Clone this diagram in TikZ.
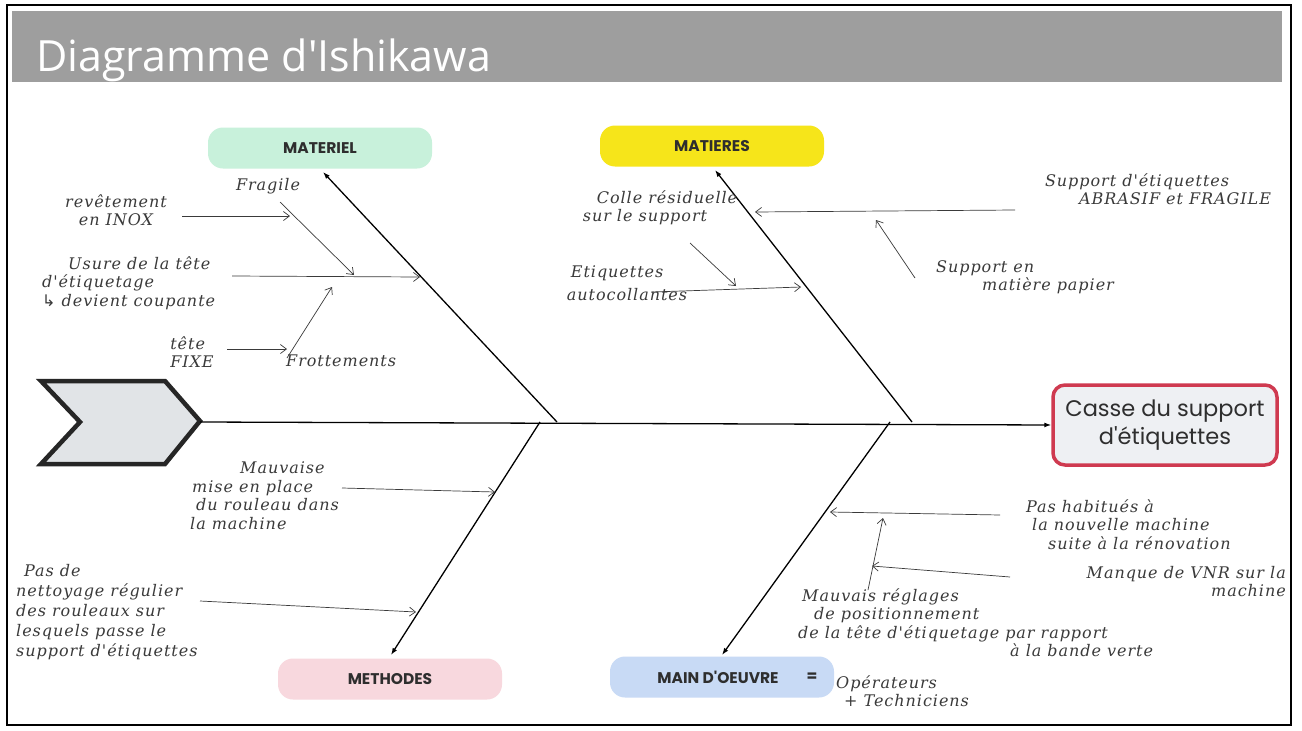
\documentclass[tikz,border=0pt]{standalone}
\usepackage{fontspec}
\usetikzlibrary{arrows.meta}
\newfontfamily\titlefont{Open Sans}
\newfontfamily\catfont{Poppins}
\newfontfamily\symfont{DejaVu Sans}
\newfontfamily\handfont{DejaVu Serif}[LetterSpace=6]
\definecolor{bandgray}{HTML}{9E9E9E}
\definecolor{hcol}{HTML}{3A3A3A}
\definecolor{catcol}{HTML}{2E2E2E}
\definecolor{mint}{HTML}{C8F1DB}
\definecolor{yel}{HTML}{F6E51A}
\definecolor{pinkc}{HTML}{F8D8DE}
\definecolor{bluec}{HTML}{C8DAF5}
\definecolor{headred}{HTML}{CF3A50}
\definecolor{headfill}{HTML}{EEF0F3}
\definecolor{chevfill}{HTML}{E1E4E7}
\tikzset{
  hand/.style={font=\handfont\itshape\fontsize{16}{18.5}\selectfont, text=hcol, inner sep=0pt},
  harrow/.style={draw=hcol, line width=0.7pt, -{Straight Barb[length=6pt,width=9pt]}},
  bone/.style={draw=black, line width=1.3pt, -{Latex[length=7pt,width=5pt]}},
  catbox/.style={rounded corners=15pt, minimum width=224pt, minimum height=41pt, inner sep=0pt,
    font=\catfont\bfseries\fontsize{15.5}{18}\selectfont, text=catcol},
}
\begin{document}
\begin{tikzpicture}[x=1pt,y=-1pt]
\useasboundingbox (0,0) rectangle (1302,731);
\fill[white] (0,0) rectangle (1302,731);
% frame and title band
\draw[line width=1.6pt, black] (7,5) rectangle (1291,725);
\fill[bandgray] (12,11) rectangle (1282,82);
\node[anchor=base west, inner sep=0pt, text=white, font=\titlefont\fontsize{43}{50}\selectfont] (title) at (36,71) {Diagramme d'Ishikawa};

% chevron (tail)
\draw[line width=4.5pt, draw=black!85, fill=chevfill, line join=miter]
  (41,381) -- (165,381) -- (200,421) -- (165,464) -- (41,464) -- (80,422) -- cycle;
\coordinate (tail) at (200,422);

% head
\node[draw=headred, line width=3.5pt, fill=headfill, rounded corners=12pt,
  minimum width=224pt, minimum height=80pt, align=center, text=catcol,
  font=\catfont\fontsize{22.5}{28}\selectfont] (head) at (1165,425) {Casse du support\\d'étiquettes};

% spine
\draw[line width=1.3pt, -{Latex[length=7pt,width=5pt]}] (tail) -- (head.west);

% category boxes
\node[catbox, fill=mint] (matl) at (320,148) {MATERIEL};
\node[catbox, fill=yel] (mati) at (712,146) {MATIERES};
\node[catbox, fill=pinkc] (meth) at (390,679) {METHODES};
\node[catbox, fill=bluec] (main) at (722,677) {};
\node[inner sep=0pt, font=\catfont\bfseries\fontsize{15.5}{18}\selectfont, text=catcol] (mainlbl) at (718,677) {MAIN D'OEUVRE};
\node[inner sep=0pt, font=\catfont\bfseries\fontsize{15.5}{18}\selectfont, text=catcol] (eq) at (812,677) {=};

% bones
\coordinate (j1) at (557,422);
\coordinate (j2) at (912,422);
\coordinate (j3) at (540,422);
\coordinate (j4) at (890,422);
\draw[bone] (j1) -- (323,172);
\draw[bone] (j2) -- (715,170);
\draw[bone] (j3) -- (391,655);
\draw[bone] (j4) -- (722,655);

% ---------- MATERIEL causes
\node[hand, align=center] (rev) at (116,210) {revêtement\\en INOX};
\coordinate (a1s) at (182,216); \coordinate (a1e) at (290,216);
\draw[harrow] (a1s) -- (a1e);

\node[hand] (fragile) at (268,186) {Fragile};
\coordinate (a2s) at (280,202); \coordinate (a2e) at (354,275);
\draw[harrow] (a2s) -- (a2e);

\node[hand, align=left, anchor=north west] (usure) at (42,256) {\hspace{26pt}Usure de la tête\\d'étiquetage\\{\symfont ↳} devient coupante};
\coordinate (a3s) at (232,276); \coordinate (a3e) at (420,277);
\draw[harrow] (a3s) -- (a3e);

\node[hand, align=left] (fixe) at (192,352) {tête\\FIXE};
\coordinate (a4s) at (227,349); \coordinate (a4e) at (287,349);
\draw[harrow] (a4s) -- (a4e);

\node[hand, anchor=west] (frot) at (286,361) {Frottements};
\coordinate (a5s) at (287,358); \coordinate (a5e) at (332,287);
\draw[harrow] (a5s) -- (a5e);

% ---------- MATIERES causes
\node[hand, align=left] (colle) at (660,208) {\hspace{14pt}Colle résiduelle\\sur le support};
\coordinate (a6s) at (690,243); \coordinate (a6e) at (736,286);
\draw[harrow] (a6s) -- (a6e);

\node[hand, align=left] (etiq) at (627,283) {\hspace{4pt}Etiquettes\\[4pt]autocollantes};
\coordinate (a7s) at (652,292); \coordinate (a7e) at (801,287);
\draw[harrow] (a7s) -- (a7e);

\node[hand, align=left] (supp) at (1158,189) {Support d'étiquettes\\\hspace{34pt}ABRASIF et FRAGILE};
\coordinate (a8s) at (1015,210); \coordinate (a8e) at (755,212);
\draw[harrow] (a8s) -- (a8e);

\node[hand, align=left] (papier) at (1025,277) {Support en\\\hspace{46pt}matière papier};
\coordinate (a9s) at (915,278); \coordinate (a9e) at (876,220);
\draw[harrow] (a9s) -- (a9e);

% ---------- METHODES causes
\node[hand, align=left, anchor=north west] (mauv) at (190,462) {\hspace{50pt}Mauvaise\\\hspace{2pt}mise en place\\\hspace{6pt}du rouleau dans\\la machine};
\coordinate (a10s) at (342,488); \coordinate (a10e) at (495,492);
\draw[harrow] (a10s) -- (a10e);

\node[hand, align=left, anchor=north west, font=\handfont\itshape\fontsize{16}{20}\selectfont] (pasde) at (16,564) {\hspace{8pt}Pas de\\nettoyage régulier\\des rouleaux sur\\lesquels passe le\\support d'étiquettes};
\coordinate (a11s) at (200,601); \coordinate (a11e) at (416,612);
\draw[harrow] (a11s) -- (a11e);

% ---------- MAIN D'OEUVRE causes
\node[hand, align=left, anchor=north west] (habit) at (1026,499) {Pas habitués à\\\hspace{6pt}la nouvelle machine\\\hspace{22pt}suite à la rénovation};
\coordinate (a12s) at (1000,515); \coordinate (a12e) at (830,512);
\draw[harrow] (a12s) -- (a12e);

\node[hand, align=right, anchor=north east] (vnr) at (1286,566) {Manque de VNR sur la\\machine};
\coordinate (a13s) at (1010,577); \coordinate (a13e) at (872,566);
\draw[harrow] (a13s) -- (a13e);

\node[hand, align=left, anchor=north west] (regl) at (798,588) {\hspace{4pt}Mauvais réglages\\\hspace{16pt}de positionnement\\de la tête d'étiquetage par rapport\\\hspace{212pt}à la bande verte};
\coordinate (a14s) at (868,590); \coordinate (a14e) at (883,518);
\draw[harrow] (a14s) -- (a14e);

\node[hand, align=left, anchor=north west] (oper) at (836,675) {Opérateurs\\\hspace{8pt}+ Techniciens};
\end{tikzpicture}
\end{document}
